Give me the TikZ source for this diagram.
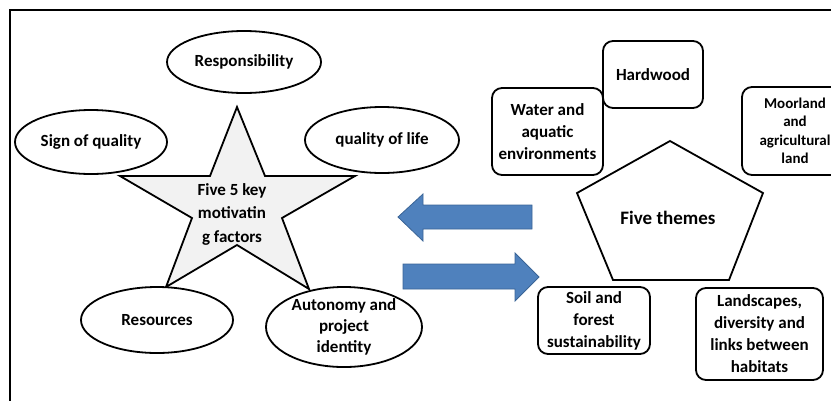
\documentclass[tikz,border=0pt]{standalone}
\usepackage{fontspec}
\setmainfont{Carlito}
\usetikzlibrary{shapes.geometric}
\definecolor{arrowblue}{HTML}{4F81BD}
\definecolor{arrowedge}{HTML}{3A6496}
\definecolor{starfill}{HTML}{F2F2F2}
\begin{document}
\begin{tikzpicture}[x=1pt,y=-1pt,
  txt/.style={font=\fontsize{17}{22}\selectfont\bfseries, align=center},
  oval/.style={ellipse, draw, line width=1.8pt, fill=white, inner sep=0pt, txt},
  theme/.style={rectangle, rounded corners=10pt, draw, line width=1.8pt, fill=white, inner sep=0pt, txt},
  shapeline/.style={draw, line width=1.8pt, line join=miter},
  bigarrow/.style={fill=arrowblue, draw=arrowedge, line width=0.8pt}]
\useasboundingbox (0,0) rectangle (831,400);
\draw[line width=2pt] (845,10) -- (10,10) -- (10,410);

% star
\draw[shapeline, fill=starfill] (237,107) -- (265,176) -- (355,176) -- (282,218) -- (309,289)
  -- (237,245) -- (166,287) -- (192,218) -- (120,176) -- (210,176) -- cycle;
\node[txt, font=\fontsize{17}{23.5}\selectfont\bfseries] (star) at (232,214) {Five 5 key\\motivatin\\g factors};

\node[oval, minimum width=154pt, minimum height=62pt] (resp) at (244,62) {Responsibility};
\node[oval, minimum width=152pt, minimum height=64pt] (sign) at (91,142) {Sign of quality};
\node[oval, minimum width=154pt, minimum height=66pt] (life) at (382,140) {quality of life};
\node[oval, minimum width=152pt, minimum height=66pt] (res) at (157,320) {Resources};
\node[oval, minimum width=156pt, minimum height=80pt, font=\fontsize{17}{21}\selectfont\bfseries] (auto) at (344,327) {Autonomy and\\project\\identity};

% arrows
\draw[bigarrow] (398,217) -- (423,194) -- (423,205) -- (532,205) -- (532,229) -- (423,229) -- (423,241) -- cycle;
\draw[bigarrow] (403,264) -- (515,264) -- (515,253) -- (539,277) -- (515,301) -- (515,289) -- (403,289) -- cycle;

% pentagon
\draw[shapeline, fill=white] (670,141) -- (763,193) -- (729,280) -- (613,280) -- (577,193) -- cycle;
\node[txt, font=\fontsize{19}{22}\selectfont\bfseries] (themes) at (668,218) {Five themes};

\node[theme, minimum width=100pt, minimum height=67pt] (hard) at (653,74.5) {Hardwood};
\node[theme, minimum width=111pt, minimum height=87pt] (water) at (547.5,131.5) {Water and\\aquatic\\environments};
\node[theme, minimum width=106pt, minimum height=88pt, font=\fontsize{15}{18.5}\selectfont\bfseries] (moor) at (795,131) {Moorland\\and\\agricultural\\land};
\node[theme, minimum width=112pt, minimum height=67pt] (soil) at (594,320.5) {Soil and\\forest\\sustainability};
\node[theme, minimum width=127pt, minimum height=92pt] (land) at (759.5,334) {Landscapes,\\diversity and\\links between\\habitats};
\end{tikzpicture}
\end{document}
